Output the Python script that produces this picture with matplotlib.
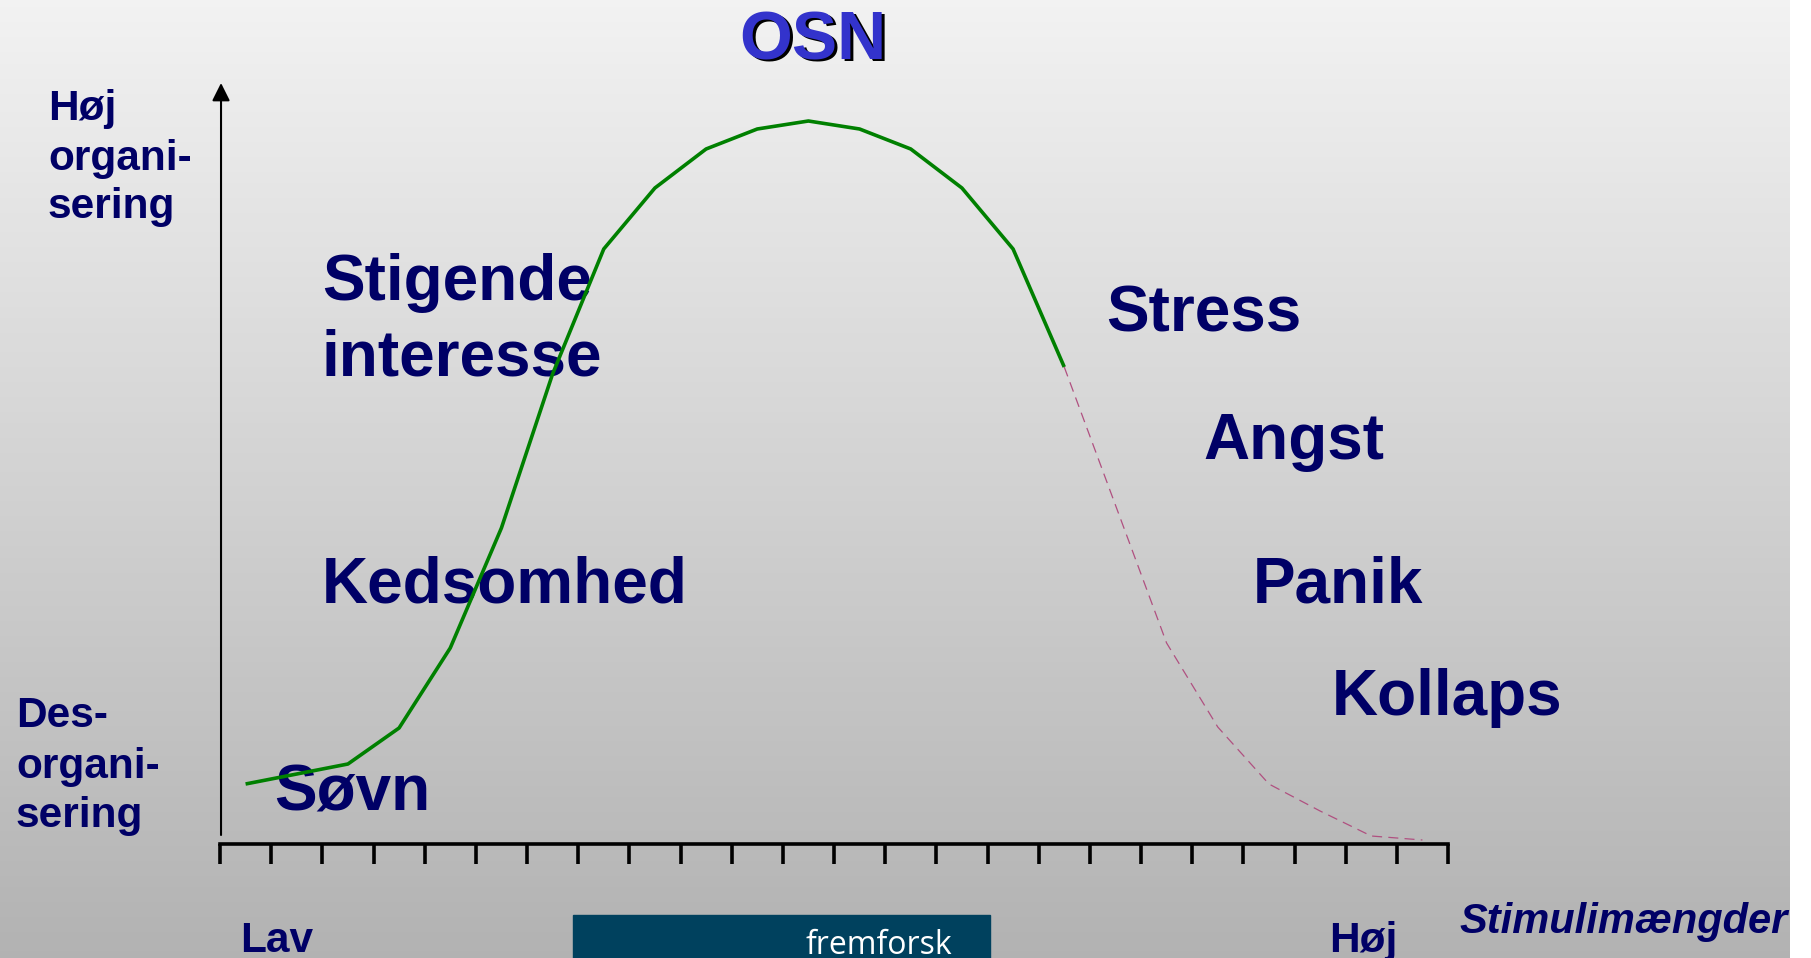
import numpy as np
import matplotlib
matplotlib.use("Agg")
import matplotlib.pyplot as plt
import matplotlib.transforms as mtransforms
from matplotlib.patches import Rectangle

# Stimulus steps on the x axis (tick positions) and curve sample points
tick_steps = list(range(25))
stimulus = [i + 0.5 for i in range(24)]

# Degree of organisation (green part, then dashed part)
organisering = [6.0, 7.0, 8.0, 11.6, 19.6, 31.6, 47.0, 59.5, 65.6, 69.5, 71.5, 72.3,
                71.5, 69.5, 65.6, 59.5, 47.7, 33.9, 20.1, 11.7, 6.0, 3.3, 0.8, 0.4]
split_index = 16  # last point of the solid (green) segment

state_labels = ["Søvn", "Kedsomhed", "Stigende\ninteresse", "Stress", "Angst", "Panik", "Kollaps"]
y_top_label = ["Høj", "organi-", "sering"]
y_bottom_label = ["Des-", "organi-", "sering"]
x_labels = ["Lav", "Høj"]
x_title = "Stimulimængder"
title = "OSN"

W, H = 1811, 958
NAVY = "#000066"


def pixel_transform(fig):
    """Transform from top-left pixel coordinates of the picture to display."""
    return mtransforms.Affine2D().scale(1 / W, -1 / H).translate(0, 1) + fig.transFigure


def draw_background(fig):
    """Vertical grey gradient with a thin white strip on the right."""
    bg = fig.add_axes([0, 0, 1, 1], zorder=-10)
    grad = np.linspace(0, 1, 256).reshape(-1, 1)
    top, bottom = np.array([0.95, 0.95, 0.95]), np.array([0.70, 0.70, 0.70])
    img = top + grad[..., None] * (bottom - top)
    img = np.repeat(img, 2, axis=1)
    bg.imshow(img, extent=[0, 1790, H, 0], aspect="auto")
    bg.set_xlim(0, W)
    bg.set_ylim(H, 0)
    bg.axis("off")


def main():
    fig = plt.figure(figsize=(W / 100, H / 100), dpi=100, facecolor="white")
    draw_background(fig)
    px = pixel_transform(fig)

    ax = fig.add_axes([220 / W, 1 - 844 / H, 1228 / W, 761 / H])
    ax.patch.set_alpha(0)
    ax.set_xlim(0, 24)
    ax.set_ylim(0, 76.1)

    # Curve: solid green part and dashed continuation
    ax.plot(stimulus[:split_index + 1], organisering[:split_index + 1],
            color="#008000", lw=2.6, zorder=3, solid_capstyle="butt")
    ax.plot(stimulus[split_index:], organisering[split_index:],
            color="#b05080", lw=0.9, ls=(0, (8, 5)), zorder=3)

    # Axes styling
    for side in ["top", "right", "left"]:
        ax.spines[side].set_visible(False)
    ax.spines["bottom"].set_linewidth(2.6)
    ax.set_xticks(tick_steps)
    ax.set_xticklabels([])
    ax.set_yticks([])
    ax.tick_params(axis="x", direction="out", length=14.5, width=2.6, color="black")

    # Vertical arrow axis
    ax.annotate("", xy=(0.02, 76.1), xytext=(0.02, 0.9), xycoords="data",
                arrowprops=dict(arrowstyle="-|>,head_length=0.6,head_width=0.3",
                                mutation_scale=18, lw=1.5, color="black",
                                shrinkA=0, shrinkB=0), annotation_clip=False)

    big = dict(fontsize=46, fontweight="bold", color=NAVY, family="Liberation Sans",
               transform=px, va="baseline", ha="left", zorder=2)
    positions = [(274, 811), (322, 603), (322, 300), (1106, 332), (1203, 459), (1253, 603), (1332, 715)]
    for label, (x, y) in zip(state_labels, positions):
        lines = label.split("\n")
        for k, line in enumerate(lines):
            ax.text(x, y + k * 76, line, **big)

    small = dict(fontsize=30.5, fontweight="bold", color=NAVY, family="Liberation Sans",
                 transform=px, va="baseline", ha="left", zorder=2)
    for line, y in zip(y_top_label, [120, 170, 218]):
        ax.text(48, y, line, **small)
    for line, y in zip(y_bottom_label, [727, 778, 827]):
        ax.text(16, y, line, **small)
    ax.text(240, 952, x_labels[0], **small)
    ax.text(1329, 952, x_labels[1], **small)

    clip = mtransforms.TransformedBbox(mtransforms.Bbox([[0, 0], [1790 / W, 1]]), fig.transFigure)
    t = ax.text(1459, 933, x_title, fontsize=30, fontweight="bold", fontstyle="italic",
                color=NAVY, family="Liberation Sans", transform=px, va="baseline", ha="left")
    t.set_clip_box(clip)
    t.set_clip_on(True)

    # Title with drop shadow
    ax.text(742, 62, title, fontsize=49, fontweight="bold", color="black",
            family="Liberation Sans", transform=px, va="baseline", ha="left")
    ax.text(739, 59, title, fontsize=49, fontweight="bold", color="#3333cc",
            family="Liberation Sans", transform=px, va="baseline", ha="left")

    # Logo bar at the bottom
    fig.patches.append(Rectangle((573, 915), 417, 50, transform=px, color="#00415e", zorder=1))
    fig.text(805, 954, "fremforsk", fontsize=23, color="white", family="Open Sans",
             transform=px, va="baseline", ha="left")

    fig.savefig("out.png", dpi=100, facecolor="white")


if __name__ == "__main__":
    main()
